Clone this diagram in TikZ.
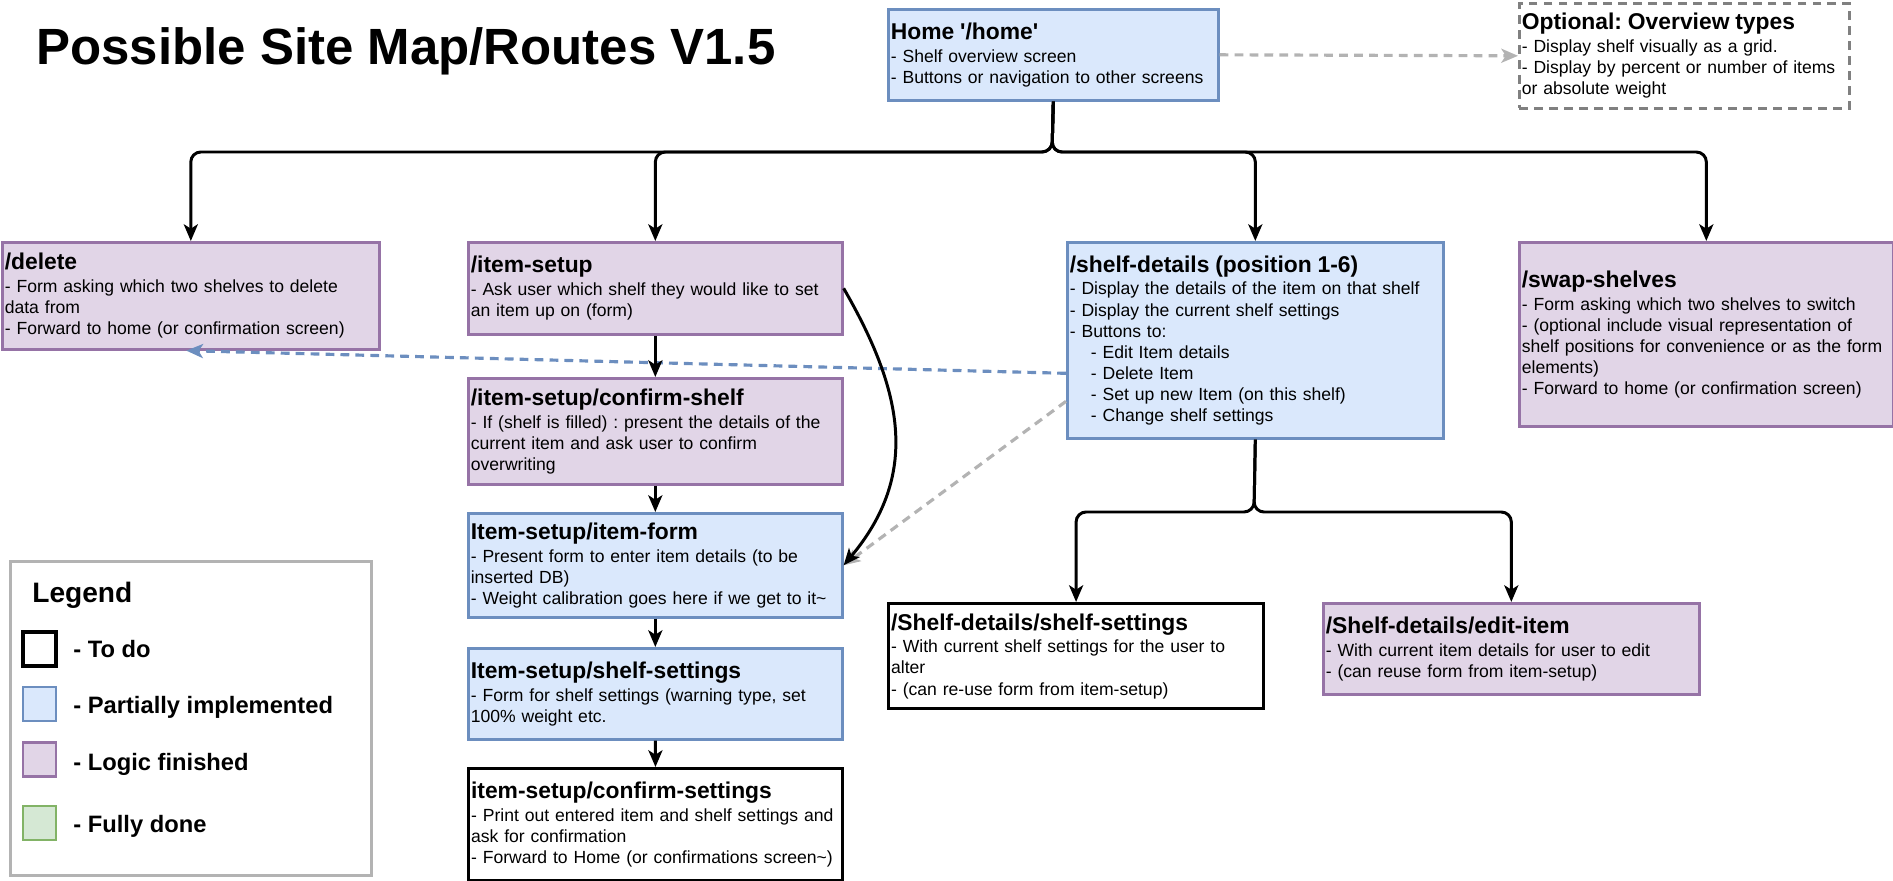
\documentclass[tikz,border=0pt]{standalone}
\usepackage{fontspec}
\setmainfont{Liberation Sans}
\usetikzlibrary{arrows.meta}
\definecolor{partfill}{HTML}{DAE8FC}
\definecolor{partline}{HTML}{6C8EBF}
\definecolor{logicfill}{HTML}{E1D5E7}
\definecolor{logicline}{HTML}{9673A6}
\definecolor{donefill}{HTML}{D5E8D4}
\definecolor{doneline}{HTML}{82B366}
\definecolor{hintgray}{HTML}{B3B3B3}
\definecolor{optline}{HTML}{808080}
\newcommand{\routename}[1]{{\fontsize{13}{15}\selectfont\bfseries #1}}
\frenchspacing

\begin{document}
\begin{tikzpicture}[>={Stealth[length=9.5pt,width=8pt,inset=2.5pt]},
  every text node part/.style={align=left},
  route/.style={draw,anchor=north west,line width=1.5pt,inner xsep=0.05cm,inner ysep=0pt,font=\fontsize{10}{12}\selectfont},
  todo/.style={route,draw=black,fill=white,line width=1.8pt},
  partial/.style={route,draw=partline,fill=partfill},
  logic/.style={route,draw=logicline,fill=logicfill},
  swatch/.style={draw,line width=1.5pt,minimum width=0.66cm,minimum height=0.68cm,inner sep=0pt},
  keytext/.style={anchor=base west,inner sep=0pt,font=\fontsize{13.5}{16}\selectfont\bfseries},
  link/.style={->,line width=1.7pt,rounded corners=0.2cm},
  hint/.style={->,draw=hintgray,line width=1.8pt,dash pattern=on 5pt off 3.5pt}]

\useasboundingbox (0,0) rectangle (37.86,-17.62);

\node[anchor=base west,inner sep=0pt,font=\fontsize{29}{34}\selectfont\bfseries] (maptitle) at (0.72,-1.30) {Possible Site Map/Routes V1.5};

%%%%%%%%%%%%%%%%%%%%%%%%%%%%%%%%%%%%%%

\node[partial,text width=6.5cm,minimum height=1.82cm] (home) at (17.74,-0.16)
  {\routename{Home \textquotesingle/home\textquotesingle}\\[1pt]- Shelf overview screen\\- Buttons or navigation to other screens};
\node[route,draw=optline,fill=white,dash pattern=on 5pt off 3.5pt,text width=6.5cm,minimum height=2.1cm] (optional) at (30.36,-0.04)
  {\routename{Optional: Overview types}\\[1pt]- Display shelf visually as a grid.\\- Display by percent or number of items\\or absolute weight};

%%%%%%%%%%%%%%%%%%%%%%%%%%%%%%%%%%%%%%

\node[logic,text width=7.44cm,minimum height=2.14cm] (delete) at (0.02,-4.82)
  {\routename{/delete}\\[1pt]- Form asking which two shelves to delete\\data from\\- Forward to home (or confirmation screen)};
\node[logic,text width=7.38cm,minimum height=1.84cm] (itemsetup) at (9.34,-4.82)
  {\routename{/item-setup}\\[1pt]- Ask user which shelf they would like to set\\an item up on (form)};
\node[partial,text width=7.42cm,minimum height=3.92cm] (shelfdetails) at (21.32,-4.82)
  {\routename{/shelf-details (position 1-6)}\\[1pt]- Display the details of the item on that shelf\\- Display the current shelf settings\\- Buttons to:\\
  \hspace*{12pt}- Edit Item details\\\hspace*{12pt}- Delete Item\\\hspace*{12pt}- Set up new Item (on this shelf)\\\hspace*{12pt}- Change shelf settings};
\node[logic,text width=7.38cm,minimum height=3.68cm] (swap) at (30.36,-4.82)
  {\routename{/swap-shelves}\\[1pt]- Form asking which two shelves to switch\\- (optional include visual representation of\\shelf positions for convenience or as the form\\elements)\\- Forward to home (or confirmation screen)};

%%%%%%%%%%%%%%%%%%%%%%%%%%%%%%%%%%%%%%

\node[logic,text width=7.38cm,minimum height=2.12cm] (confirmshelf) at (9.34,-7.54)
  {\routename{/item-setup/confirm-shelf}\\[1pt]- If (shelf is filled) : present the details of the\\current item and ask user to confirm\\overwriting};
\node[partial,text width=7.38cm,minimum height=2.08cm] (itemform) at (9.34,-10.24)
  {\routename{Item-setup/item-form}\\[1pt]- Present form to enter item details (to be\\inserted DB)\\- Weight calibration goes here if we get to it\textasciitilde};
\node[partial,text width=7.38cm,minimum height=1.82cm] (itemsettings) at (9.34,-12.94)
  {\routename{Item-setup/shelf-settings}\\[1pt]- Form for shelf settings (warning type, set\\100\% weight etc.};
\node[todo,text width=7.38cm,minimum height=2.24cm] (confirmsettings) at (9.34,-15.34)
  {\routename{item-setup/confirm-settings}\\[1pt]- Print out entered item and shelf settings and\\ask for confirmation\\- Forward to Home (or confirmations screen\textasciitilde)};

\node[todo,text width=7.40cm,minimum height=2.10cm] (shelfsettings) at (17.74,-12.04)
  {\routename{/Shelf-details/shelf-settings}\\[1pt]- With current shelf settings for the user to\\alter\\- (can re-use form from item-setup)};
\node[logic,text width=7.42cm,minimum height=1.82cm] (edititem) at (26.44,-12.04)
  {\routename{/Shelf-details/edit-item}\\[1pt]- With current item details for user to edit\\- (can reuse form from item-setup)};

%%%%%%%%%%%%%%%%%%%%%%%%%%%%%%%%%%%%%%

\node[draw=hintgray,line width=1.5pt,anchor=north west,minimum width=7.22cm,minimum height=6.28cm] (legend) at (0.18,-11.2) {};
\node[anchor=base west,inner sep=0pt,font=\fontsize{16}{19}\selectfont\bfseries] (legendhead) at (0.64,-12.06) {Legend};

\node[swatch,draw=black,fill=white,line width=1.8pt] (todokey) at (0.79,-12.98) {};
\node[swatch,draw=partline,fill=partfill] (partkey) at (0.79,-14.08) {};
\node[swatch,draw=logicline,fill=logicfill] (logickey) at (0.79,-15.19) {};
\node[swatch,draw=doneline,fill=donefill] (donekey) at (0.79,-16.46) {};

\node[keytext] (todotext) at (1.46,-13.16) {- To do};
\node[keytext] (parttext) at (1.46,-14.28) {- Partially implemented};
\node[keytext] (logictext) at (1.46,-15.40) {- Logic finished};
\node[keytext] (donetext) at (1.46,-16.64) {- Fully done};

%%%%%%%%%%%%%%%%%%%%%%%%%%%%%%%%%%%%%%

\coordinate (hub) at (21.04,-3.04);
\draw[link] (home.south) -- (hub) -| (delete.north);
\draw[link] (home.south) -- (hub) -| (itemsetup.north);
\draw[link] (home.south) -- (hub) -| (shelfdetails.north);
\draw[link] (home.south) -- (hub) -| (swap.north);

\coordinate (sdhub) at (25.08,-10.24);
\draw[link] (shelfdetails.south) -- (sdhub) -| (shelfsettings.north);
\draw[link] (shelfdetails.south) -- (sdhub) -| (edititem.north);

\draw[hint] (home.east) -- (optional.west);
\draw[hint] ([yshift=-1.22cm]shelfdetails.west) -- (itemform.east);
\draw[hint,draw=partline] ([yshift=-0.66cm]shelfdetails.west) -- ([xshift=-0.09cm]delete.south);

\draw[link] (itemsetup) -- (confirmshelf);
\draw[link] (confirmshelf) -- (itemform);
\draw[link] (itemform) -- (itemsettings);
\draw[link] (itemsettings) -- (confirmsettings);
\draw[link] (itemsetup.east) to[out=-60,in=50,looseness=1.1] (itemform.east);

\end{tikzpicture}
\end{document}
